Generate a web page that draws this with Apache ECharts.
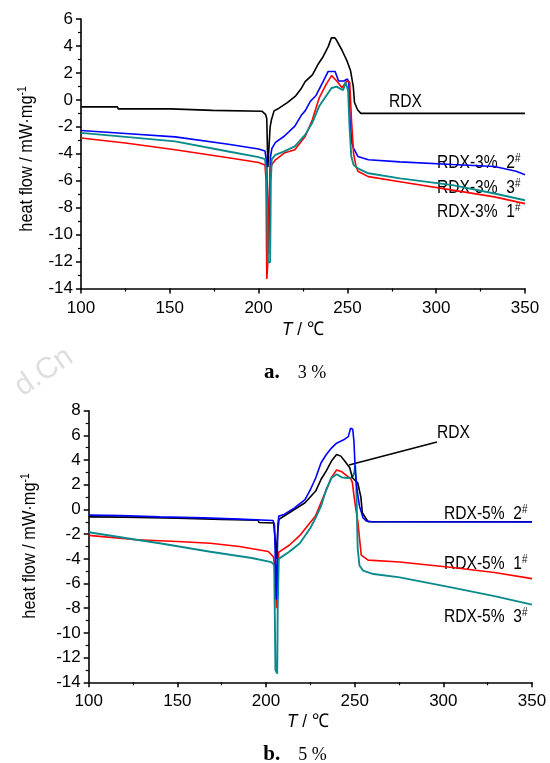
<!DOCTYPE html>
<html><head><meta charset="utf-8">
<script src="https://cdn.jsdelivr.net/npm/echarts@6/dist/echarts.min.js"></script>
<style>html,body{margin:0;padding:0;background:#fff}#c{width:550px;height:763px}</style>
</head><body><div id="c"></div><script>
// ---- data (temperature °C, heat flow mW/mg) ----
const xTickValues = [100, 150, 200, 250, 300, 350];
const yTicksA = [-14, -12, -10, -8, -6, -4, -2, 0, 2, 4, 6];
const yTicksB = [-14, -12, -10, -8, -6, -4, -2, 0, 2, 4, 6, 8];

// panel a (3%)
const a_RDX = [[100,-0.52],[120.5,-0.52],[121,-0.67],[150.5,-0.67],[151,-0.78],[174,-0.78],[174.5,-0.85],[202,-0.85],[204,-1.1],[204.6,-1.4],[205.2,-5.0],[205.8,-5.0],[206.5,-2.0],[207.2,-1.5],[208.7,-0.82],[211.5,-0.62],[216.2,-0.2],[220.9,0.3],[223.8,0.8],[226.2,1.35],[230.3,1.85],[233.3,2.6],[236.3,3.2],[239.2,3.95],[241,4.6],[243,4.6],[244,4.4],[246.9,3.7],[249.9,2.85],[251.7,2.2],[252.8,2.1],[253.3,1.0],[254,-0.2],[255.8,-0.75],[257.6,-1.0],[350,-1.0]];
const a_S2 = [[100,-2.27],[125,-2.5],[153,-2.75],[183,-3.3],[200,-3.65],[203.6,-3.8],[204.5,-4.6],[205.2,-8],[205.6,-11.5],[206.1,-8],[206.6,-4.3],[207.5,-3.6],[209.5,-3.15],[214.4,-2.7],[220.4,-1.95],[224.3,-1.1],[226.3,-0.8],[229.2,-0.1],[232.2,0.3],[236.1,1.3],[239.1,2.1],[243.1,2.1],[245,1.4],[248,1.4],[250,1.55],[250.8,1.3],[251.5,-1.5],[252.5,-3.2],[253.5,-3.6],[255.9,-4.2],[261.8,-4.45],[279.6,-4.6],[309.2,-4.8],[332.8,-4.95],[345,-5.3],[350,-5.55]];
const a_S1 = [[100,-2.83],[125,-3.2],[153,-3.7],[183,-4.3],[200,-4.65],[203.6,-4.83],[204.2,-6],[204.6,-13.3],[205.1,-12.3],[205.7,-8],[206.5,-5.2],[207.5,-4.8],[209.5,-4.45],[214.4,-3.95],[220.4,-3.7],[226.3,-2.7],[230.2,-1.5],[234.2,0.17],[238.1,1.17],[241.1,1.8],[244,1.4],[247,0.9],[248,0.8],[249.6,1.4],[251.3,1.3],[252.3,-1.5],[253.5,-4.0],[254.9,-4.95],[255.9,-5.3],[261.8,-5.7],[279.6,-6.08],[309.2,-6.7],[332.8,-7.2],[350,-7.7]];
const a_S3 = [[100,-2.45],[125,-2.75],[153,-3.08],[183,-3.83],[200,-4.25],[203.6,-4.4],[204.5,-5.5],[205,-10],[205.3,-12.05],[206.5,-12.05],[206.9,-6],[207.4,-4.4],[209.5,-4.08],[214.4,-3.83],[220.4,-3.45],[226.3,-2.58],[230.2,-1.7],[234.2,-0.45],[238.1,0.3],[241.1,0.88],[244,0.98],[245.6,0.85],[247.6,0.73],[249,1.3],[250.4,0.68],[251.2,-2],[252.2,-4.2],[253.5,-4.83],[255.9,-5.08],[261.8,-5.45],[279.6,-5.83],[309.2,-6.33],[332.8,-6.95],[350,-7.45]];

// panel b (5%)
const b_RDX = [[100,-0.6],[120,-0.62],[150,-0.7],[175,-0.8],[195.5,-0.87],[196,-1.05],[204.3,-1.1],[205.2,-2.5],[205.8,-4.0],[206.5,-2.0],[207.3,-0.8],[210,-0.55],[216,0.0],[222,0.54],[228,1.49],[231,2.43],[233.9,3.1],[236.9,3.92],[239.8,4.46],[240.8,4.6],[242.2,4.32],[244.8,3.84],[247.2,3.38],[248.7,2.57],[251.7,2.16],[252.7,2.03],[253.5,1.0],[254.3,-0.25],[256,-0.65],[257.6,-1.0],[350,-1.0]];
const b_S2 = [[100,-0.46],[118,-0.5],[140,-0.6],[165,-0.68],[185,-0.78],[204,-0.9],[204.8,-1.3],[205.4,-5],[205.8,-7.3],[206.2,-5],[206.7,-1.2],[207.2,-0.54],[210.2,-0.4],[216.1,0.13],[222,0.8],[225,1.6],[228,2.55],[231,3.76],[233.9,4.43],[236.9,4.97],[239.8,5.37],[243.8,5.64],[246.4,5.9],[247.7,6.58],[248.3,6.45],[248.9,6.5],[249.6,5.5],[250.3,3.2],[251.3,1.6],[252.7,0.27],[254.7,-0.67],[256.6,-0.94],[260,-1.0],[350,-1.02]];
const b_S1 = [[100,-2.1],[127,-2.45],[150,-2.6],[168.6,-2.74],[185,-3.0],[201.3,-3.4],[204.2,-3.85],[205.2,-5],[205.9,-8.0],[206.5,-5],[207.2,-3.45],[213.1,-2.9],[219.1,-2.1],[223,-1.4],[228,-0.5],[232,0.9],[235,1.9],[236.9,2.6],[239.8,3.2],[240.8,3.25],[242.8,3.05],[245.8,2.7],[247.7,2.5],[248.7,2.2],[249.7,1.0],[250.7,0],[251.8,-1.0],[252.7,-2.3],[253.7,-3.7],[257.6,-4.1],[275.4,-4.25],[305.1,-4.7],[328.8,-5.1],[350,-5.6]];
const b_S3 = [[100,-1.85],[127,-2.45],[140,-2.74],[168.6,-3.43],[192,-3.93],[203,-4.26],[204.6,-4.5],[205,-9],[205.3,-13.0],[206.3,-13.3],[206.6,-8],[207.2,-4.0],[213.1,-3.43],[219.1,-2.74],[225,-1.5],[228,-0.68],[231,0.27],[233.9,1.6],[236.9,2.55],[239.8,2.85],[242.8,2.6],[245.8,2.55],[248.7,2.6],[249.8,3.0],[250.3,3.55],[250.9,2.0],[251.7,-3.16],[252.7,-4.54],[254.7,-4.95],[260.6,-5.23],[275.4,-5.5],[305.1,-6.33],[328.8,-7.02],[350,-7.71]];

const labelsA = ['RDX', 'RDX-3%  2', 'RDX-3%  3', 'RDX-3%  1'];
const labelsB = ['RDX', 'RDX-5%  2', 'RDX-5%  1', 'RDX-5%  3'];
const yName = 'heat flow / mW·mg';
const xName = ' / ℃';
const captions = [['a.', '3 %'], ['b.', '5 %']];

// ---- chart ----
const FONT = '"Liberation Sans", Arial, sans-serif';
const SERIF = '"Liberation Serif", "Times New Roman", serif';
const C = {black:'#000000', blue:'#0000ff', red:'#ff0000', teal:'#0a8a8a'};
const NARROW = 0.82;

function xAx(gi){
  return {type:'value', gridIndex:gi, min:xTickValues[0], max:xTickValues[xTickValues.length-1], interval:50,
    axisLine:{onZero:false, lineStyle:{color:'#000', width:1.6}},
    axisTick:{length:5, lineStyle:{color:'#000', width:1.5}},
    minorTick:{show:true, splitNumber:2, length:3, lineStyle:{color:'#000', width:1.2}},
    splitLine:{show:false},
    axisLabel:{color:'#000', fontFamily:FONT, fontSize:17, margin:11}};
}
function yAx(gi, ticks){
  return {type:'value', gridIndex:gi, min:ticks[0], max:ticks[ticks.length-1], interval:2,
    axisLine:{onZero:false, lineStyle:{color:'#000', width:1.6}},
    axisTick:{length:5, lineStyle:{color:'#000', width:1.5}},
    minorTick:{show:true, splitNumber:2, length:3, lineStyle:{color:'#000', width:1.2}},
    splitLine:{show:false},
    axisLabel:{color:'#000', fontFamily:FONT, fontSize:17, margin:8}};
}
function ser(data, color, gi, w){
  return {type:'line', data:data, xAxisIndex:gi, yAxisIndex:gi, showSymbol:false, symbol:'none',
    lineStyle:{color:color, width:w||1.6}, itemStyle:{color:color}, animation:false, z:2};
}
const rich = {s:{fontSize:12, fontFamily:FONT, padding:[0,0,9,0], fill:'#000'}};
function tx(text, x, y){
  return {type:'text', x:x, y:y, scaleX:NARROW, style:{text:text, fill:'#000', font:'19px '+FONT, verticalAlign:'middle', rich:rich}};
}
function yLabel(x, y){
  return {type:'text', x:x, y:y, rotation:Math.PI/2, scaleX:0.86, style:{text:yName + '{s|-1}', fill:'#000', font:'19px '+FONT, align:'center', verticalAlign:'middle', rich:rich}};
}
function xLabel(x, y){
  return {type:'text', x:x, y:y, scaleX:0.9, style:{text:'{i|T}' + xName, fill:'#000', font:'19px '+FONT, align:'center', verticalAlign:'middle', rich:{i:{fontStyle:'italic', fontSize:19, fontFamily:FONT}}}};
}
function caption(c, x, y){
  return {type:'text', x:x, y:y, style:{text:'{b|' + c[0] + '}' + c[1], fill:'#000', font:'18px '+SERIF, align:'center', verticalAlign:'middle', rich:{b:{fontWeight:'bold', fontSize:21, fontFamily:SERIF, padding:[0,18,0,0]}}}};
}

const chart = echarts.init(document.getElementById('c'), null, {renderer:'canvas'});
chart.setOption({
  backgroundColor:'#fff',
  animation:false,
  grid:[{left:81, top:19, width:444, height:269.5}, {left:88.7, top:410.7, width:443.3, height:271.6}],
  xAxis:[xAx(0), xAx(1)],
  yAxis:[yAx(0, yTicksA), yAx(1, yTicksB)],
  series:[
    ser(a_RDX, C.black, 0), ser(a_S2, C.blue, 0), ser(a_S1, C.red, 0), ser(a_S3, C.teal, 0, 1.9),
    ser(b_S1, C.red, 1), ser(b_S3, C.teal, 1, 1.9), ser(b_RDX, C.black, 1), ser(b_S2, C.blue, 1)
  ],
  graphic:[
    {type:'text', x:44, y:372, rotation:0.6, style:{text:'d.Cn', fill:'#dedede', font:'30px "Liberation Sans", sans-serif', align:'center', verticalAlign:'middle'}, z:-1},
    tx(labelsA[0], 389, 102),
    tx(labelsA[1] + '{s|#}', 437, 163),
    tx(labelsA[2] + '{s|#}', 437, 188),
    tx(labelsA[3] + '{s|#}', 437, 212),
    tx(labelsB[0], 437, 433),
    {type:'line', shape:{x1:437, y1:442, x2:349, y2:465}, style:{stroke:'#000', lineWidth:1.4}},
    tx(labelsB[1] + '{s|#}', 444, 514),
    tx(labelsB[2] + '{s|#}', 444, 564),
    tx(labelsB[3] + '{s|#}', 444, 617),
    yLabel(27, 159),
    yLabel(30, 546),
    xLabel(303, 330),
    xLabel(308, 722),
    caption(captions[0], 295, 373),
    caption(captions[1], 295, 755)
  ]
});
</script></body></html>
